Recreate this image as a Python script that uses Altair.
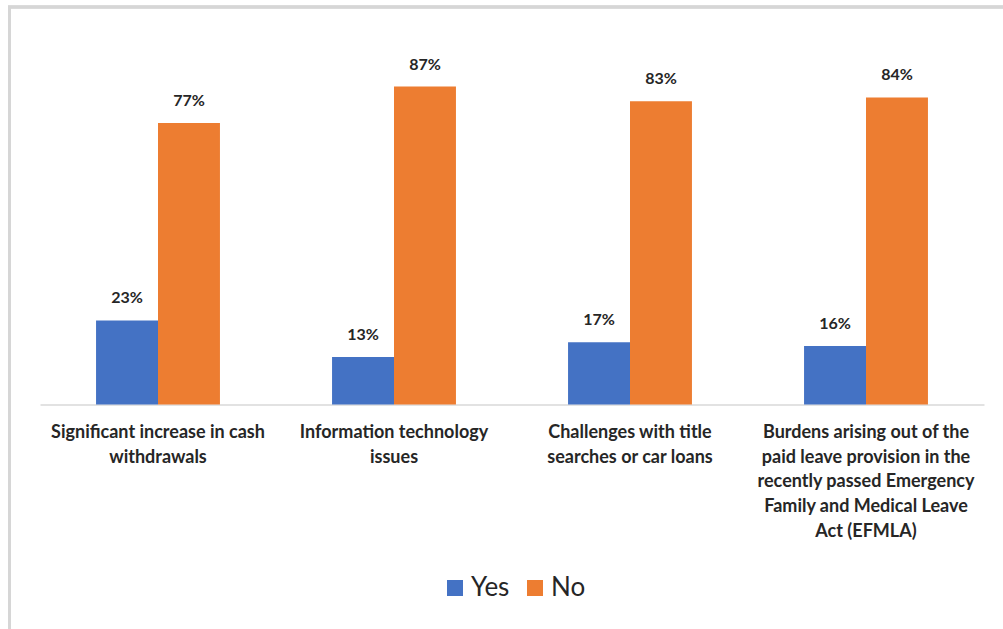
import altair as alt
import pandas as pd

categories = [
    "Significant increase in cash|withdrawals",
    "Information technology|issues",
    "Challenges with title|searches or car loans",
    "Burdens arising out of the|paid leave provision in the|recently passed Emergency|Family and Medical Leave|Act (EFMLA)",
]
yes_values = [23, 13, 17, 16]
no_values = [77, 87, 83, 84]
series = ["Yes", "No"]
colors = ["#4472C4", "#ED7D31"]

rows = []
for c, y, n in zip(categories, yes_values, no_values):
    rows.append({"category": c, "answer": "Yes", "value": y})
    rows.append({"category": c, "answer": "No", "value": n})
df = pd.DataFrame(rows)
df["label"] = df["value"].astype(str) + "%"

FONT = "Lato"

x_enc = alt.X(
    "category:N",
    sort=categories,
    scale=alt.Scale(paddingInner=0.475, paddingOuter=0.2375),
    axis=alt.Axis(
        title=None,
        labelAngle=0,
        ticks=False,
        domainColor="#d9d9d9",
        domainWidth=1.5,
        labelExpr="split(datum.label, '|')",
        labelFont=FONT,
        labelFontWeight="bold",
        labelFontSize=18,
        labelColor="#262626",
        labelLineHeight=24.7,
        labelPadding=19,
        labelLimit=300,
    ),
)
xoff = alt.XOffset("answer:N", sort=series, scale=alt.Scale(paddingInner=0, paddingOuter=0))
y_enc = alt.Y("value:Q", scale=alt.Scale(domain=[0, 100], nice=False), axis=None)

bars = alt.Chart(df).mark_bar().encode(
    x=x_enc,
    xOffset=xoff,
    y=y_enc,
    color=alt.Color(
        "answer:N",
        sort=series,
        scale=alt.Scale(domain=series, range=colors),
        legend=alt.Legend(
            title=None,
            orient="none",
            direction="horizontal",
            legendX=402,
            legendY=536,
            symbolType="square",
            symbolSize=256,
            symbolStrokeWidth=0,
            labelFont=FONT,
            labelFontSize=26,
            labelColor="#262626",
            labelOffset=3,
            columnPadding=12,
            padding=0,
        ),
    ),
)

labels = alt.Chart(df).mark_text(
    dy=-22, baseline="middle", font=FONT, fontWeight="bold", fontSize=16, color="#262626"
).encode(x=alt.X("category:N", sort=categories), xOffset=xoff, y="value:Q", text="label:N")

frame_top = alt.Chart(df).mark_rule(color="#d6d6d6", strokeWidth=2.5).encode(
    x=alt.value(-32), x2=alt.value(963), y=alt.value(-32)
)
frame_left = alt.Chart(df).mark_rule(color="#d6d6d6", strokeWidth=2.5).encode(
    x=alt.value(-30.5), y=alt.value(-33), y2=alt.value(590)
)

chart = (
    alt.layer(bars, labels, frame_top, frame_left)
    .properties(
        width=944,
        height=365.5,
        padding={"left": 40, "top": 39, "right": 19, "bottom": 224.5},
        autosize="none",
        background="white",
    )
    .configure_view(strokeWidth=0, stroke="transparent")
)

chart.save("out.html", embed_options={"renderer": "svg", "actions": False})
